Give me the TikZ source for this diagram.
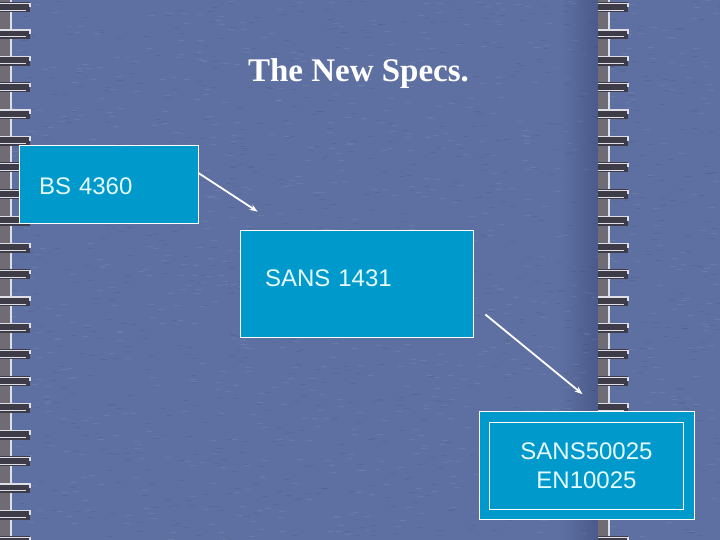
\documentclass[tikz,border=0pt]{standalone}
\usepackage{fontspec}
\setmainfont{Liberation Serif}
\setsansfont{Liberation Sans}
\usetikzlibrary{arrows.meta}
\usetikzlibrary{positioning}
\definecolor{denim}{RGB}{94,112,162}
\definecolor{denimdark}{RGB}{74,90,138}
\definecolor{boxblue}{RGB}{0,153,204}
\definecolor{boxtext}{RGB}{228,250,255}
\definecolor{ringgray}{RGB}{112,108,118}
\definecolor{ringdark}{RGB}{62,60,72}
\definecolor{ringlight}{RGB}{222,222,230}
\tikzstyle{spec} = [rectangle, draw=white, line width=0.8pt, fill=boxblue,
    text=boxtext, font=\sffamily\fontsize{24}{29}\selectfont, inner sep=0pt]

\begin{document}
\begin{tikzpicture}[x=1pt,y=-1pt]
\useasboundingbox (0,0) rectangle (720,540);
\clip (0,0) rectangle (720,540);

\tikzset{>={Stealth[length=8pt,width=6pt]}}
\tikzstyle{link} = [->, white, line width=1.8pt];

% denim background
\fill[denim] (0,0) rectangle (720,540);
\shade[left color=denim, right color=denimdark] (560,0) rectangle (598,540);
\pgfmathsetseed{7}
\foreach \i in {1,...,900} {
  \pgfmathsetmacro\rx{random(0,720)}
  \pgfmathsetmacro\ry{random(0,540)}
  \draw[white, opacity=0.07, line width=0.8pt] (\rx,\ry) -- ++(6,0);
  \pgfmathsetmacro\rx{random(0,720)}
  \pgfmathsetmacro\ry{random(0,540)}
  \draw[black, opacity=0.06, line width=0.8pt] (\rx,\ry) -- ++(6,0);
}

% spiral binding
\foreach \bx in {0,598} {
  \fill[ringgray] (\bx,0) rectangle (\bx+10,540);
  \draw[ringlight, line width=2.5pt] (\bx+11,0) -- (\bx+11,540);
  \foreach \k in {0,...,20} {
    \pgfmathsetmacro\hy{2.3+\k*26.7}
    \fill[ringdark] (\bx,\hy) rectangle (\bx+30,\hy+10);
    \draw[ringlight, line width=1.2pt] (\bx,\hy+1) -- (\bx+30,\hy+1) -- (\bx+30,\hy+5);
    \draw[ringlight, line width=1pt] (\bx,\hy+8) -- (\bx+26,\hy+8);
  }
}

\node[font=\bfseries\fontsize{33}{40}\selectfont, text=white, anchor=base] (title)
  at (358.5,82) {The New Specs.};

\node[spec, minimum width=179pt, minimum height=78pt, text width=139pt,
  text height=22pt, align=left] (bs) at (108.5,184) {BS 4360};
\node[spec, minimum width=233pt, minimum height=107pt, text width=183pt,
  text depth=10pt, align=left] (sans) at (356.5,283.5) {SANS 1431};
\node[spec, minimum width=215pt, minimum height=108pt, align=center] (en)
  at (586.5,465.5) {SANS50025\\EN10025};
\draw[white, line width=0.8pt] ([xshift=11pt,yshift=-11pt]en.north west)
  rectangle ([xshift=-11pt,yshift=11pt]en.south east);

\coordinate (sans-in) at ([xshift=18pt,yshift=18pt]sans.north west);
\coordinate (sans-out) at ([xshift=12pt,yshift=-31pt]sans.east);
\coordinate (en-in) at ([xshift=-4pt,yshift=17pt]en.north);

\draw[link] ([yshift=11pt]bs.east) -- (sans-in);
\draw[link] (sans-out) -- (en-in);

\end{tikzpicture}
\end{document}
